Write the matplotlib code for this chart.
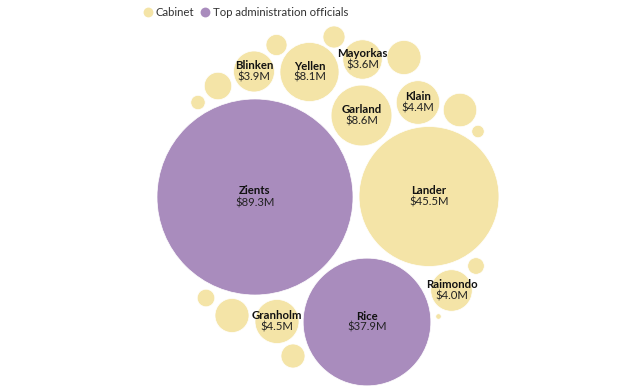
import matplotlib.pyplot as plt
from matplotlib.patches import Circle
import numpy as np

plt.rcParams['font.family'] = ['Lato', 'DejaVu Sans']

# labelled bubbles
names = ["Zients", "Lander", "Rice", "Garland", "Yellen", "Granholm",
         "Klain", "Raimondo", "Blinken", "Mayorkas"]
values = [89.3, 45.5, 37.9, 8.6, 8.1, 4.5, 4.4, 4.0, 3.9, 3.6]  # $M
groups = ["top", "cabinet", "top", "cabinet", "cabinet", "cabinet",
          "cabinet", "cabinet", "cabinet", "cabinet"]

# unlabelled cabinet bubbles ($M, estimated from size)
small_values = [1.03, 1.13, 2.7, 1.75, 0.48, 2.6, 0.36, 0.64, 0.07, 0.72, 2.69, 1.34]

# bubble layout (pixel centres of the packed layout)
lab_x = [255, 429, 367, 361.5, 309.5, 277, 418, 451.5, 254, 362.5]
lab_y = [197, 196.5, 322, 115.5, 72, 321.5, 102.5, 290.5, 71.5, 59.5]
small_x = [276.5, 334, 404, 218, 198, 460, 478, 476, 438.5, 206, 232, 293]
small_y = [45, 37, 57.5, 86, 102.5, 110, 131.5, 266, 316.5, 298, 315.5, 356]

colors = {"cabinet": "#f4e4a7", "top": "#a98cbd"}
scale = 98 / np.sqrt(89.3)  # radius per sqrt($M)

fig = plt.figure(figsize=(6.44, 3.90), dpi=100)
ax = fig.add_axes([0, 0, 1, 1])
ax.set_xlim(0, 644)
ax.set_ylim(390, 0)
ax.set_aspect("equal")
ax.axis("off")

for v, x, y in zip(small_values, small_x, small_y):
    ax.add_patch(Circle((x, y), scale*np.sqrt(v), facecolor=colors["cabinet"],
                        edgecolor="white", linewidth=0.5))

for n, v, g, x, y in zip(names, values, groups, lab_x, lab_y):
    ax.add_patch(Circle((x, y), scale*np.sqrt(v), facecolor=colors[g],
                        edgecolor="white", linewidth=0.5))
    ax.text(x, y - 6, n, ha="center", va="center", fontsize=8.2,
            fontweight="bold", color="#111111")
    ax.text(x, y + 5.5, "$%.1fM" % v, ha="center", va="center", fontsize=8.2,
            color="#222222")

# legend
ax.scatter([148], [12], s=50, color=colors["cabinet"], linewidths=0)
ax.text(156, 12.5, "Cabinet", ha="left", va="center", fontsize=8.2, color="#333333")
ax.scatter([205], [12], s=50, color=colors["top"], linewidths=0)
ax.text(213, 12.5, "Top administration officials", ha="left", va="center",
        fontsize=8.2, color="#333333")

plt.savefig("out.png", dpi=100)
